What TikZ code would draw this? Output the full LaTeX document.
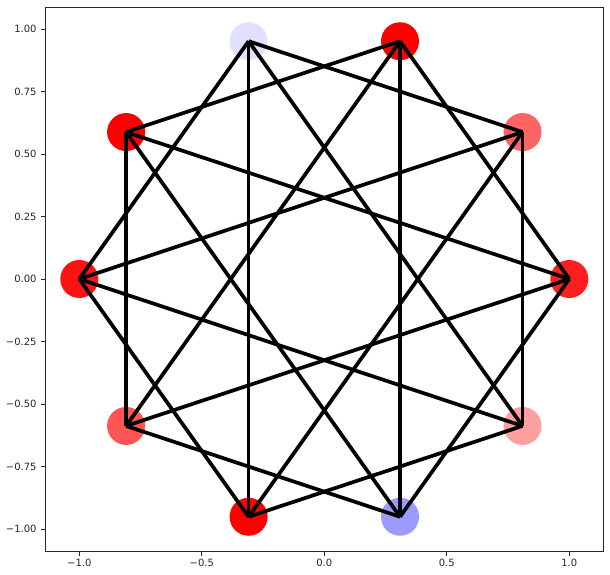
\documentclass[tikz,border=0pt]{standalone}
\usepackage{fontspec}
\setmainfont{DejaVu Sans}
\usetikzlibrary{calc}
\definecolor{c0}{RGB}{255,30,30}
\definecolor{c1}{RGB}{255,100,100}
\definecolor{c2}{RGB}{255,0,0}
\definecolor{c3}{RGB}{225,225,255}
\definecolor{c4}{RGB}{255,0,0}
\definecolor{c5}{RGB}{255,18,18}
\definecolor{c6}{RGB}{255,85,85}
\definecolor{c7}{RGB}{255,0,0}
\definecolor{c8}{RGB}{155,155,255}
\definecolor{c9}{RGB}{255,160,160}
\tikzset{
  vtx/.style={circle, inner sep=0pt, minimum size=38bp, draw=none},
  edgeline/.style={line width=3.7bp, black, line cap=butt},
  spine/.style={line width=0.8bp, black!85},
  tickmark/.style={line width=0.8bp, black!85},
  ticklbl/.style={font=\fontsize{10bp}{12bp}\selectfont, text=black!85, inner sep=0pt}
}
\begin{document}
\begin{tikzpicture}[x=1bp,y=-1bp]
\useasboundingbox (0,0) rectangle (610,575);
\fill[white] (0,0) rectangle (610,575);
% nodes
\foreach \k in {0,...,9}{
  \node[vtx, fill=c\k] (n\k) at ({324.3+245*cos(36*\k)},{279-250*sin(36*\k)}) {};
}
% edges (distance 2 and 4)
\foreach \k in {0,...,9}{
  \pgfmathtruncatemacro{\a}{mod(\k+2,10)}
  \pgfmathtruncatemacro{\b}{mod(\k+4,10)}
  \draw[edgeline] (n\k.center) -- (n\a.center);
  \draw[edgeline] (n\k.center) -- (n\b.center);
}
% axes frame
\coordinate (tl) at (45.3,7);
\coordinate (br) at (603.3,551);
\draw[spine] (tl) rectangle (br);
% x ticks
\foreach \xv/\lab in {-1.0/{−1.0},-0.5/{−0.5},0.0/{0.0},0.5/{0.5},1.0/{1.0}}{
  \coordinate (xt) at ({324.3+245*\xv},551);
  \draw[tickmark] (xt) -- ++(0,4.5);
  \node[ticklbl, anchor=north] (xl) at ($(xt)+(0,7.5)$) {\lab};
}
% y ticks
\foreach \yv/\lab in {1.00/{1.00},0.75/{0.75},0.50/{0.50},0.25/{0.25},0.00/{0.00},-0.25/{−0.25},-0.50/{−0.50},-0.75/{−0.75},-1.00/{−1.00}}{
  \coordinate (yt) at (45.3,{279-250*\yv});
  \draw[tickmark] (yt) -- ++(-4.5,0);
  \node[ticklbl, anchor=east] (yl) at ($(yt)+(-8.5,0)$) {\lab};
}
\end{tikzpicture}
\end{document}
